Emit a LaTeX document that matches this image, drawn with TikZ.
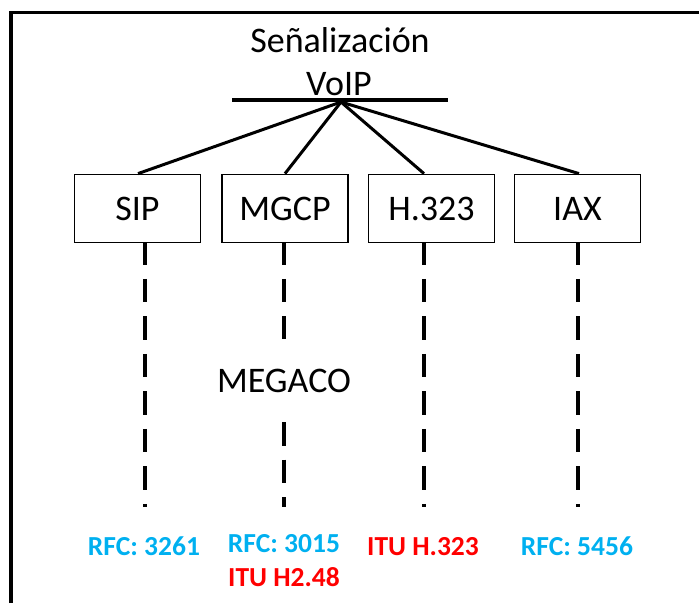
\documentclass[tikz,border=0pt]{standalone}
\usepackage{fontspec}
\setmainfont{Carlito}
\definecolor{rfcblue}{HTML}{00B0F0}
\definecolor{itured}{HTML}{FF0000}
\begin{document}
\begin{tikzpicture}[x=1pt,y=-1pt,
  box/.style={draw,line width=1.8pt,minimum width=126pt,minimum height=68pt,inner sep=0pt,font=\fontsize{36}{40}\selectfont},
  big/.style={inner sep=0pt,anchor=base,font=\fontsize{36}{40}\selectfont},
  lab/.style={inner sep=0pt,anchor=base,font=\fontsize{27.5}{30}\selectfont\bfseries},
  conn/.style={line width=3pt},
  dline/.style={line width=3.4pt,dash pattern=on 23.5pt off 14pt,dash phase=2pt},
  dline2/.style={line width=3.4pt,dash pattern=on 23.5pt off 14pt}]
\useasboundingbox (0,0) rectangle (699,603);
% frame
\draw[line width=3.5pt] (11,603) -- (11,12.5) -- (699,12.5);
% title
\node[big] (t1) at (340,52) {Señalización};
\node[big] (t2) at (339,95) {VoIP};
\draw[line width=3.2pt] (232,100) -- (448,100);
\coordinate (apex) at (341,102);
% boxes
\node[box] (sip) at (137.5,208.5) {SIP};
\node[box] (mgcp) at (285,208.5) {MGCP};
\node[box] (h323) at (431.5,208.5) {H.323};
\node[box] (iax) at (577.5,208.5) {IAX};
% connectors
\draw[conn] (apex) -- ([xshift=0.5pt]sip.north);
\draw[conn] (apex) -- (mgcp.north);
\draw[conn] (apex) -- ([xshift=-7.5pt]h323.north);
\draw[conn] (apex) -- ([xshift=1.5pt]iax.north);
% dashed lines
\coordinate (e1) at (145,507);
\coordinate (e2) at (284,507);
\coordinate (e3) at (424,507);
\coordinate (e4) at (578,507);
\coordinate (m1) at (284,339);
\coordinate (m2) at (284,422);
\draw[dline] ([xshift=7.5pt]sip.south) -- (e1);
\draw[dline] ([xshift=-1pt]mgcp.south) -- (m1);
\draw[dline2] (m2) -- (e2);
\draw[dline] ([xshift=-7.5pt]h323.south) -- (e3);
\draw[dline] ([xshift=0.5pt]iax.south) -- (e4);
\node[big] (megaco) at (284,392) {MEGACO};
% labels
\node[lab,text=rfcblue] (r1) at (144,555) {RFC: 3261};
\node[lab,text=rfcblue] (r2) at (284,552) {RFC: 3015};
\node[lab,text=itured] (r3) at (284,586) {ITU H2.48};
\node[lab,text=itured] (r4) at (423,555) {ITU H.323};
\node[lab,text=rfcblue] (r5) at (577,555) {RFC: 5456};
\end{tikzpicture}
\end{document}
